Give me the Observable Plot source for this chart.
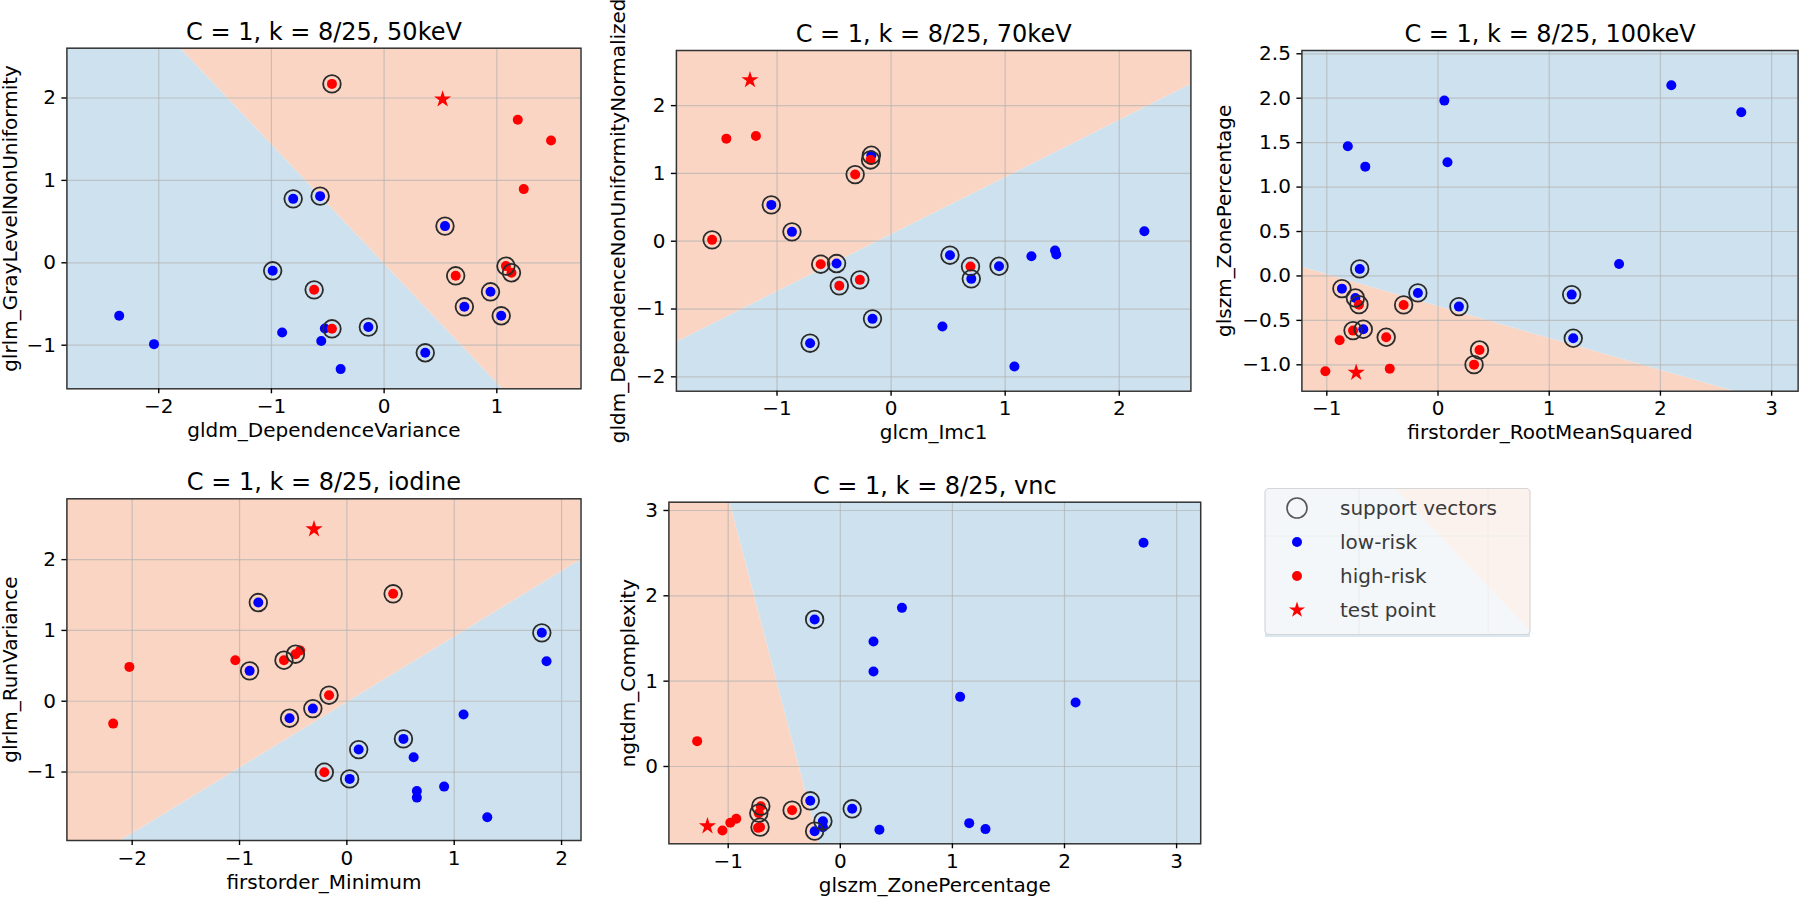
<!DOCTYPE html>
<html>
<head>
<meta charset="utf-8">
<script src="https://cdn.jsdelivr.net/npm/d3@7"></script>
<script src="https://cdn.jsdelivr.net/npm/@observablehq/plot@0.6"></script>
<style>
html, body { margin: 0; padding: 0; background: #ffffff; }
#page { position: relative; width: 1800px; height: 899px; overflow: hidden; font-family: "DejaVu Sans", sans-serif; }
#page svg { position: absolute; left: 0; top: 0; }
</style>
</head>
<body>
<div id="page"></div>
<script>
// ---------------- DATA ----------------
// each point: [x, y, isSupportVector]
const lowRisk_50keV = [[-0.807,0.776,1],[-0.568,0.809,1],[0.540,0.445,1],[-0.989,-0.097,1],[0.944,-0.352,1],[0.712,-0.534,1],[1.039,-0.643,1],[-0.140,-0.780,1],[0.365,-1.092,1],[-2.351,-0.643,0],[-2.042,-0.987,0],[-0.905,-0.845,0],[-0.526,-0.797,0],[-0.558,-0.950,0],[-0.386,-1.290,0]];
const highRisk_50keV = [[-0.463,2.171,1],[1.186,1.735,0],[1.481,1.484,0],[1.239,0.894,0],[0.635,-0.158,1],[1.081,-0.040,1],[1.130,-0.121,1],[-0.621,-0.328,1],[-0.463,-0.801,1]];
const test_50keV = [0.519, 1.985];
const boundary_50keV = [[-1.807, 2.604], [1.05, -1.529]];

const lowRisk_70keV = [[-0.173,1.268,1],[-1.050,0.536,1],[-0.869,0.138,1],[-0.478,-0.329,1],[-0.163,-1.145,1],[-0.710,-1.504,1],[0.516,-0.206,1],[0.703,-0.555,1],[0.946,-0.369,1],[0.450,-1.258,0],[1.081,-1.848,0],[1.230,-0.221,0],[1.437,-0.138,0],[1.448,-0.197,0],[2.220,0.147,0]];
const highRisk_70keV = [[-1.444,1.513,0],[-1.185,1.553,0],[-0.180,1.199,1],[-0.315,0.983,1],[-1.569,0.020,1],[-0.617,-0.339,1],[-0.454,-0.658,1],[-0.274,-0.570,1],[0.696,-0.373,1]];
const test_70keV = [-1.237, 2.378];
const boundary_70keV = [[-1.882, -1.49], [2.628, 2.311]];

const lowRisk_100keV = [[2.098,2.146,0],[2.727,1.842,0],[0.057,1.973,0],[-0.811,1.459,0],[-0.654,1.230,0],[0.085,1.279,0],[1.628,0.135,0],[-0.704,0.079,1],[-0.864,-0.143,1],[-0.743,-0.248,1],[-0.181,-0.191,1],[0.188,-0.345,1],[1.202,-0.210,1],[1.216,-0.701,1],[-0.672,-0.600,1]];
const highRisk_100keV = [[-0.711,-0.323,1],[-0.309,-0.326,1],[-0.764,-0.615,1],[-0.466,-0.690,1],[0.373,-0.833,1],[0.324,-0.998,1],[-0.885,-0.724,0],[-1.013,-1.073,0],[-0.434,-1.043,0]];
const test_100keV = [-0.736, -1.088];
const boundary_100keV = [[-1.224, 0.097], [2.66, -1.297]];

const lowRisk_iodine = [[-0.825,1.394,1],[-0.906,0.429,1],[-0.534,-0.240,1],[-0.317,-0.104,1],[1.816,0.966,1],[1.860,0.565,0],[1.087,-0.188,0],[0.527,-0.532,1],[0.110,-0.683,1],[0.026,-1.097,1],[0.622,-0.791,0],[0.652,-1.267,0],[0.652,-1.361,0],[0.906,-1.206,0],[1.308,-1.639,0]];
const highRisk_iodine = [[0.431,1.517,1],[-2.026,0.485,0],[-1.039,0.579,0],[-0.586,0.579,1],[-0.479,0.664,1],[-0.435,0.716,0],[-0.166,0.085,1],[-2.177,-0.316,0],[-0.210,-1.003,1]];
const test_iodine = [-0.306, 2.431];
const boundary_iodine = [[-2.103, -1.967], [2.181, 1.997]];

const lowRisk_vnc = [[2.705,2.621,0],[0.550,1.859,0],[-0.229,1.723,1],[0.296,1.465,0],[0.296,1.113,0],[1.069,0.816,0],[2.099,0.750,0],[-0.268,-0.402,1],[0.106,-0.496,1],[-0.155,-0.641,1],[-0.155,-0.711,0],[-0.229,-0.758,1],[0.349,-0.742,0],[1.150,-0.664,0],[1.295,-0.734,0]];
const highRisk_vnc = [[-1.277,0.297,0],[-0.709,-0.465,1],[-0.727,-0.547,1],[-0.716,-0.711,1],[-0.734,-0.719,0],[-0.430,-0.512,1],[-0.928,-0.613,0],[-0.981,-0.660,0],[-1.051,-0.750,0]];
const test_vnc = [-1.185, -0.699];
const boundary_vnc = [[-0.984, 3.097], [-0.186, -0.906]];

const titles = ["C = 1, k = 8/25, 50keV", "C = 1, k = 8/25, 70keV", "C = 1, k = 8/25, 100keV", "C = 1, k = 8/25, iodine", "C = 1, k = 8/25, vnc"];
const xLabels = ["gldm_DependenceVariance", "glcm_Imc1", "firstorder_RootMeanSquared", "firstorder_Minimum", "glszm_ZonePercentage"];
const yLabels = ["glrlm_GrayLevelNonUniformity", "gldm_DependenceNonUniformityNormalized", "glszm_ZonePercentage", "glrlm_RunVariance", "ngtdm_Complexity"];
const xTicks = [[-2,-1,0,1], [-1,0,1,2], [-1,0,1,2,3], [-2,-1,0,1,2], [-1,0,1,2,3]];
const yTicks = [[-1,0,1,2], [-2,-1,0,1,2], [-1,-0.5,0,0.5,1,1.5,2,2.5], [-1,0,1,2], [0,1,2,3]];
const orangeSide = ["above", "above", "below", "above", "below"];
const legendLabels = ["support vectors", "low-risk", "high-risk", "test point"];

// ---------------- LAYOUT ----------------
const frames = [ // [left, right, top, bottom] in page px
  [66.4, 580.5, 47.7, 388.3],
  [675.9, 1190.4, 50, 390.7],
  [1301.4, 1797.6, 50, 390.7],
  [66.4, 580.5, 498.3, 840],
  [668.4, 1200.2, 501.7, 843.3]
];
const xDomains = [[-2.815, 1.747], [-1.882, 2.628], [-1.224, 3.238], [-2.608, 2.181], [-1.529, 3.215]];
const yDomains = [[-1.529, 2.604], [-2.212, 2.813], [-1.297, 2.537], [-1.967, 2.859], [-0.906, 3.097]];
const yLabelDx = [-50, -51, -70.5, -50, -34];
const yFormats = [".0f", ".0f", ".1f", ".0f", ".0f"];

const lows = [lowRisk_50keV, lowRisk_70keV, lowRisk_100keV, lowRisk_iodine, lowRisk_vnc];
const highs = [highRisk_50keV, highRisk_70keV, highRisk_100keV, highRisk_iodine, highRisk_vnc];
const tests = [test_50keV, test_70keV, test_100keV, test_iodine, test_vnc];
const boundaries = [boundary_50keV, boundary_70keV, boundary_100keV, boundary_iodine, boundary_vnc];

const BLUE_BG = "#cee1ee", ORANGE_BG = "#fad5c3";
const W = 1800, H = 899;
const page = document.getElementById("page");

function toObj(arr) { return arr.map(([x, y, sv]) => ({x, y, sv})); }

for (let i = 0; i < 5; i++) {
  const [fx0, fx1, fy0, fy1] = frames[i];
  const [ymin, ymax] = yDomains[i];
  const [[bx0, by0], [bx1, by1]] = boundaries[i];
  const slope = (by1 - by0) / (bx1 - bx0);
  const line = xDomains[i].map(x => ({x, y: by0 + slope * (x - bx0)}));
  const aboveFill = orangeSide[i] === "above" ? ORANGE_BG : BLUE_BG;
  const belowFill = orangeSide[i] === "above" ? BLUE_BG : ORANGE_BG;
  const low = toObj(lows[i]);
  const high = toObj(highs[i]);
  const sv = [...low, ...high].filter(d => d.sv);
  const test = [{x: tests[i][0], y: tests[i][1]}];

  const chart = Plot.plot({
    width: W, height: H,
    marginLeft: fx0, marginRight: W - fx1, marginTop: fy0, marginBottom: H - fy1,
    x: {domain: xDomains[i]},
    y: {domain: yDomains[i]},
    style: {background: "transparent", fontFamily: "DejaVu Sans, sans-serif", fontSize: "20px", color: "#000", overflow: "visible"},
    marks: [
      Plot.areaY(line, {x: "x", y1: ymin, y2: "y", fill: belowFill, clip: true}),
      Plot.areaY(line, {x: "x", y1: "y", y2: ymax, fill: aboveFill, clip: true}),
      Plot.gridX(xTicks[i], {stroke: "#b0b0b0", strokeOpacity: 0.65, strokeWidth: 1.2}),
      Plot.gridY(yTicks[i], {stroke: "#b0b0b0", strokeOpacity: 0.65, strokeWidth: 1.2}),
      Plot.dot(low, {x: "x", y: "y", r: 5, fill: "#0000ff"}),
      Plot.dot(high, {x: "x", y: "y", r: 5, fill: "#ff0000"}),
      Plot.dot(sv, {x: "x", y: "y", r: 8.8, fill: "none", stroke: "#2b2b2b", strokeWidth: 1.8}),
      Plot.dot(test, {x: "x", y: "y", symbol: "star", r: 5.4, fill: "#ff0000"}),
      Plot.frame({stroke: "#333", strokeWidth: 1.5}),
      Plot.axisX(xTicks[i], {tickSize: 5, tickPadding: 5, strokeWidth: 1.4, label: null, tickFormat: d3.format(".0f")}),
      Plot.axisY(yTicks[i], {tickSize: 5, tickPadding: 6, strokeWidth: 1.4, label: null, tickFormat: d3.format(yFormats[i])}),
      Plot.text([titles[i]], {frameAnchor: "top", dy: -8.5, lineAnchor: "bottom", textAnchor: "middle", fontSize: 24, fill: "#000"}),
      Plot.text([xLabels[i]], {frameAnchor: "bottom", dy: 48, lineAnchor: "bottom", textAnchor: "middle", fill: "#000"}),
      Plot.text([yLabels[i]], {frameAnchor: "left", dx: yLabelDx[i], rotate: -90, lineAnchor: "bottom", textAnchor: "middle", fill: "#000"})
    ]
  });
  page.appendChild(chart);
}

// ---------------- LEGEND ----------------
const lg = d3.select(page).append("svg").attr("width", W).attr("height", H);
const bx = 1265, by = 488.5, bw = 265, bh = 146;
lg.append("rect").attr("x", bx).attr("y", by + bh - 4).attr("width", bw).attr("height", 6.5).attr("fill", "#d9e7f0");
lg.append("defs").append("clipPath").attr("id", "lgclip").append("rect")
  .attr("x", bx).attr("y", by).attr("width", bw).attr("height", bh).attr("rx", 4);
const bg = lg.append("g").attr("clip-path", "url(#lgclip)");
bg.append("rect").attr("x", bx).attr("y", by).attr("width", bw).attr("height", bh).attr("fill", "#f3f7fa");
bg.append("path").attr("d", `M${bx + 130},${by}L${bx + bw},${by}L${bx + bw},${by + bh - 4}Z`).attr("fill", "#fcf2ed");
bg.append("line").attr("x1", 1359).attr("x2", 1359).attr("y1", by).attr("y2", by + bh).attr("stroke", "#e9ebec");
bg.append("line").attr("x1", 1488).attr("x2", 1488).attr("y1", by).attr("y2", by + bh).attr("stroke", "#efeceb");
bg.append("line").attr("x1", bx).attr("x2", bx + bw).attr("y1", 536).attr("y2", 536).attr("stroke", "#eceeef");
lg.append("rect").attr("x", bx).attr("y", by).attr("width", bw).attr("height", bh).attr("rx", 4)
  .attr("fill", "none").attr("stroke", "#d6d6d6").attr("stroke-width", 1.2);
const mx = 1297, tx = 1340, rowY = [508, 542, 576, 610];
lg.append("circle").attr("cx", mx).attr("cy", rowY[0]).attr("r", 10).attr("fill", "none").attr("stroke", "#555").attr("stroke-width", 1.6);
lg.append("circle").attr("cx", mx).attr("cy", rowY[1]).attr("r", 5).attr("fill", "#0000ff");
lg.append("circle").attr("cx", mx).attr("cy", rowY[2]).attr("r", 5).attr("fill", "#ff0000");
lg.append("path").attr("transform", `translate(${mx},${rowY[3]})`).attr("d", d3.symbol(d3.symbolStar, 80)()).attr("fill", "#ff0000");
legendLabels.forEach((t, k) => {
  lg.append("text").attr("x", tx).attr("y", rowY[k]).attr("dy", "0.35em")
    .attr("font-family", "DejaVu Sans, sans-serif").attr("font-size", 20).attr("fill", "#3a3a3a").text(t);
});
</script>
</body>
</html>
